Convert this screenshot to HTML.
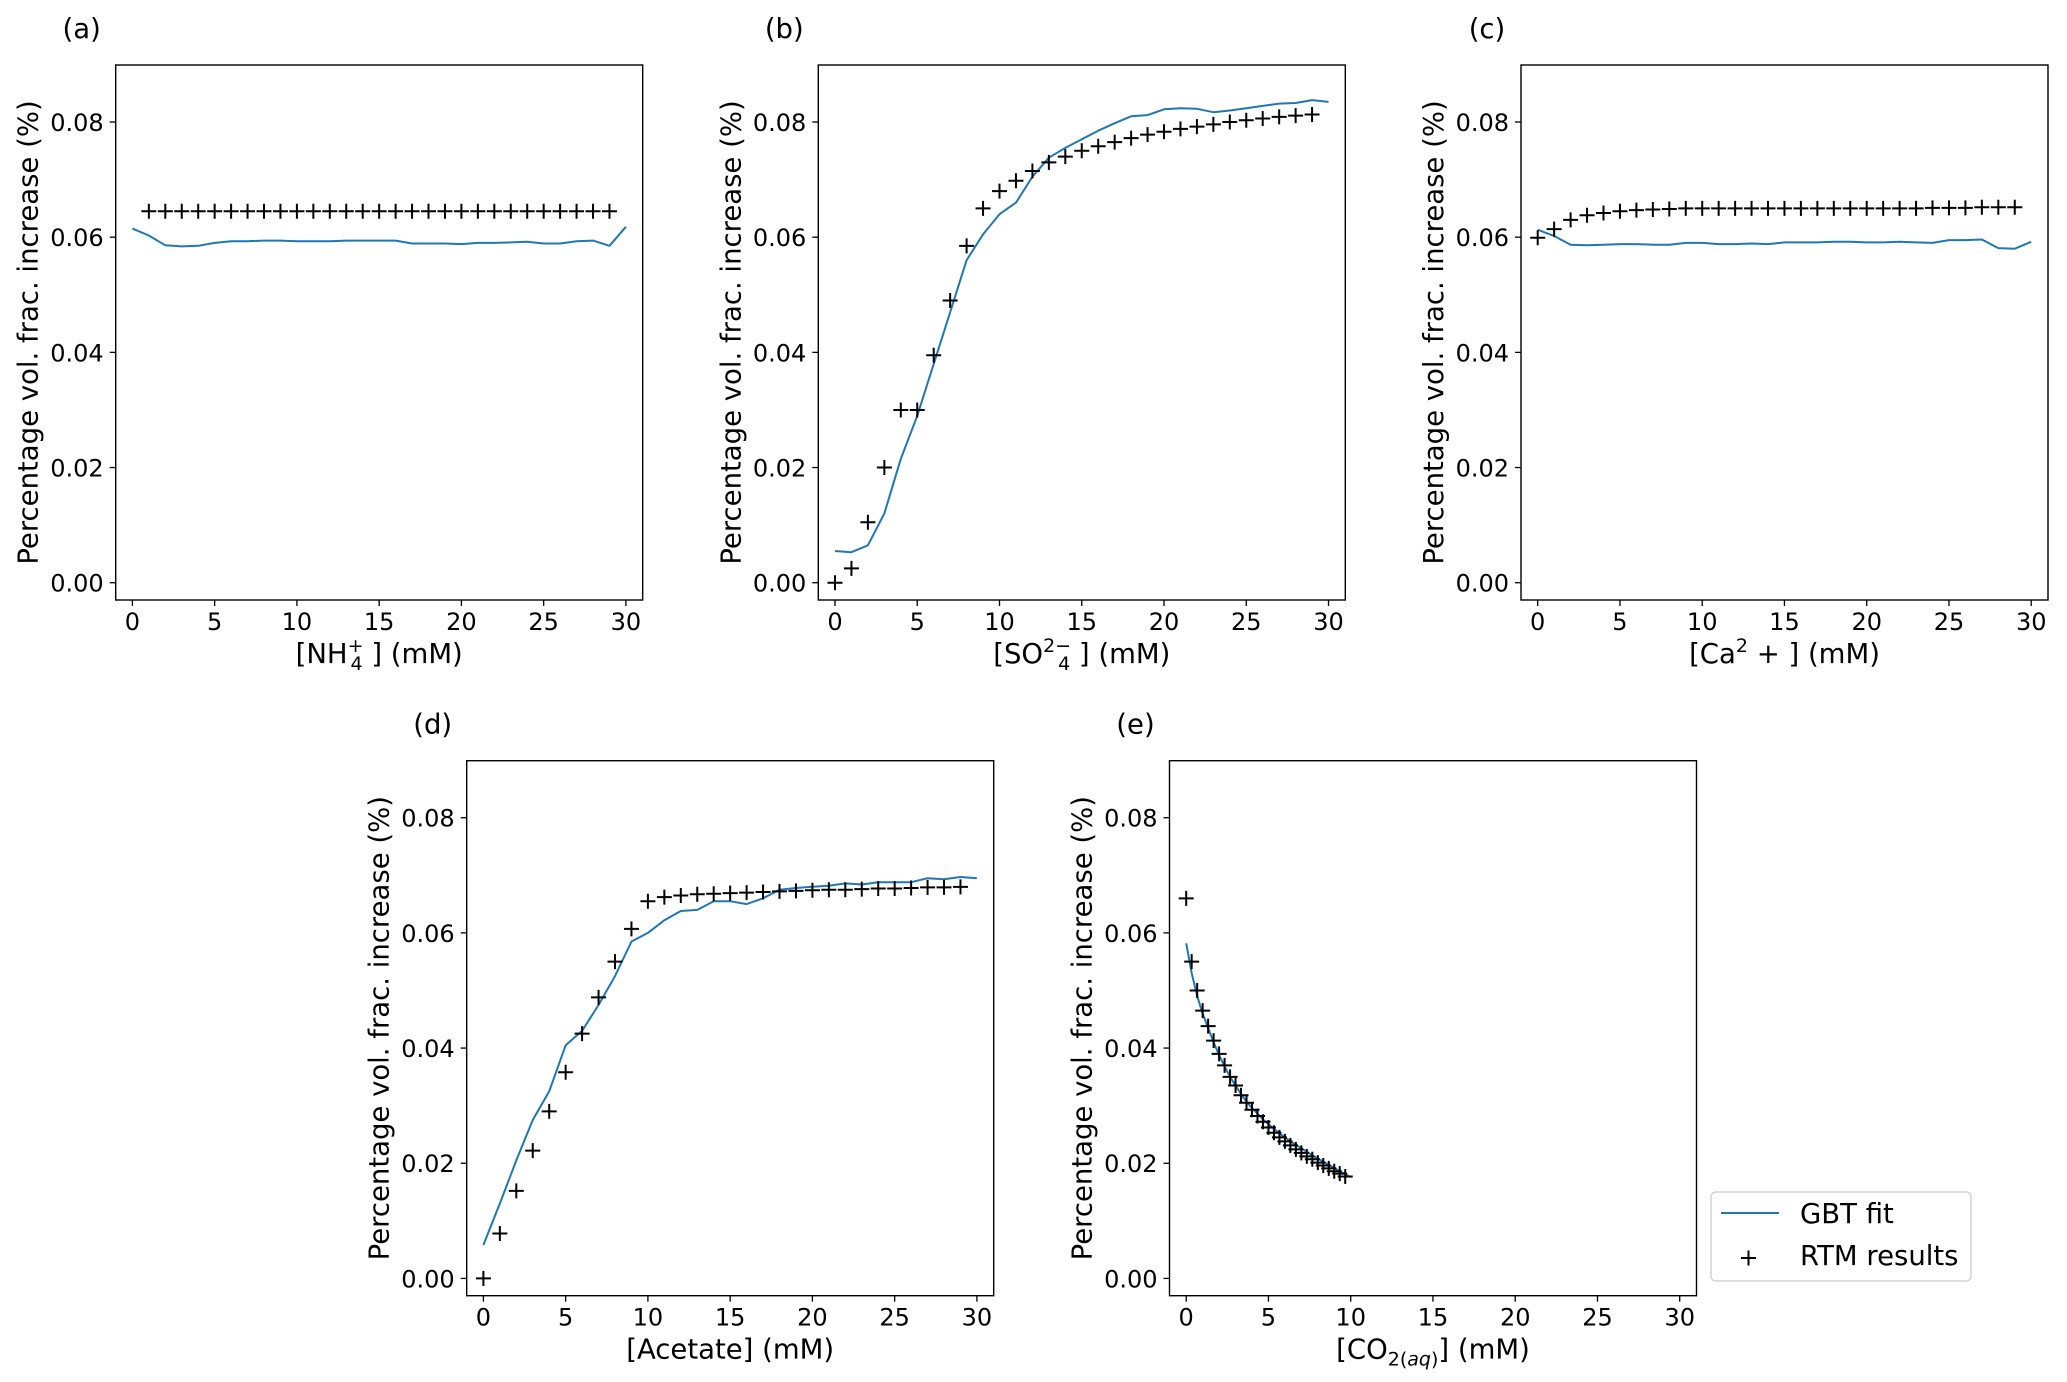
<!DOCTYPE html>
<html><head><meta charset="utf-8"><style>
html,body{margin:0;padding:0;background:#fff}
svg{display:block;font-family:"DejaVu Sans","Liberation Sans",sans-serif}
</style></head><body>
<svg id="fig" width="2067" height="1382" viewBox="0 0 2067 1382" xmlns="http://www.w3.org/2000/svg"></svg>
<script>
const xTicks=[0,5,10,15,20,25,30];
const yTicks=[0,0.02,0.04,0.06,0.08];
const yTickLabels=["0.00","0.02","0.04","0.06","0.08"];
const intX=[0,1,2,3,4,5,6,7,8,9,10,11,12,13,14,15,16,17,18,19,20,21,22,23,24,25,26,27,28,29,30];
const aRtmX=[1,2,3,4,5,6,7,8,9,10,11,12,13,14,15,16,17,18,19,20,21,22,23,24,25,26,27,28,29];
const aRtm=[0.0645,0.0645,0.0645,0.0645,0.0645,0.0645,0.0645,0.0645,0.0645,0.0645,0.0645,0.0645,0.0645,0.0645,0.0645,0.0645,0.0645,0.0645,0.0645,0.0645,0.0645,0.0645,0.0645,0.0645,0.0645,0.0645,0.0645,0.0645,0.0645];
const aGbt=[0.0615,0.0603,0.0586,0.0584,0.0585,0.059,0.0593,0.0593,0.0594,0.0594,0.0593,0.0593,0.0593,0.0594,0.0594,0.0594,0.0594,0.0589,0.0589,0.0589,0.0588,0.059,0.059,0.0591,0.0592,0.0589,0.0589,0.0593,0.0594,0.0585,0.0618];
const rtmX30=[0,1,2,3,4,5,6,7,8,9,10,11,12,13,14,15,16,17,18,19,20,21,22,23,24,25,26,27,28,29];
const bRtm=[0,0.0025,0.0105,0.02,0.030,0.030,0.0395,0.049,0.0585,0.065,0.068,0.0698,0.0715,0.073,0.074,0.075,0.0758,0.0765,0.0772,0.0778,0.0783,0.0788,0.0792,0.0796,0.080,0.0803,0.0806,0.0809,0.0811,0.0813];
const bGbt=[0.0055,0.0053,0.0065,0.012,0.0215,0.029,0.038,0.047,0.056,0.0605,0.064,0.066,0.0705,0.0738,0.0755,0.077,0.0785,0.0798,0.081,0.0812,0.0822,0.0824,0.0823,0.0817,0.082,0.0824,0.0828,0.0832,0.0833,0.0838,0.0835];
const cRtm=[0.0599,0.0614,0.063,0.0638,0.0642,0.0645,0.0647,0.0648,0.0649,0.065,0.065,0.065,0.065,0.065,0.065,0.065,0.065,0.065,0.065,0.065,0.065,0.065,0.065,0.065,0.0651,0.0651,0.0651,0.0652,0.0652,0.0652];
const cGbt=[0.0613,0.0602,0.0587,0.0586,0.0587,0.0588,0.0588,0.0587,0.0587,0.059,0.059,0.0588,0.0588,0.0589,0.0588,0.0591,0.0591,0.0591,0.0592,0.0592,0.0591,0.0591,0.0592,0.0591,0.059,0.0595,0.0595,0.0596,0.0581,0.058,0.0592];
const dRtm=[0,0.0078,0.0152,0.0222,0.029,0.0358,0.0425,0.0488,0.055,0.0607,0.0655,0.0662,0.0665,0.0667,0.0668,0.0669,0.067,0.0671,0.0672,0.0673,0.0674,0.0675,0.0675,0.0676,0.0677,0.0677,0.0678,0.0679,0.0679,0.068];
const dGbt=[0.0058,0.013,0.0205,0.0275,0.0325,0.0405,0.043,0.0475,0.0525,0.0585,0.06,0.0622,0.0638,0.064,0.0655,0.0655,0.065,0.066,0.0675,0.0678,0.068,0.0682,0.0686,0.0684,0.0688,0.0688,0.0688,0.0695,0.0693,0.0697,0.0695];
const eRtmX=[0,0.333,0.667,1,1.333,1.667,2,2.333,2.667,3,3.333,3.667,4,4.333,4.667,5,5.333,5.667,6,6.333,6.667,7,7.333,7.667,8,8.333,8.667,9,9.333,9.667];
const eRtm=[0.066,0.055,0.050,0.0465,0.0438,0.0413,0.039,0.037,0.035,0.0335,0.0318,0.0305,0.0293,0.0282,0.0272,0.0262,0.0253,0.0245,0.0238,0.0231,0.0224,0.0218,0.0212,0.0207,0.0201,0.0196,0.0191,0.0186,0.0182,0.0177];
const eGbtX=[0,0.333,0.667,1,1.333,1.667,2,2.333,2.667,3,3.333,3.667,4,4.333,4.667,5,5.333,5.667,6,6.333,6.667,7,7.333,7.667,8,8.333,8.667,9,9.333,9.667,10];
const eGbt=[0.0582,0.053,0.049,0.046,0.0435,0.041,0.0388,0.0368,0.035,0.0335,0.032,0.0307,0.0296,0.0286,0.0276,0.0268,0.026,0.0252,0.0245,0.0238,0.0232,0.0226,0.022,0.0214,0.0208,0.0203,0.0197,0.0192,0.0186,0.0181,0.0176];

const NS="http://www.w3.org/2000/svg";
const svg=document.getElementById('fig');
function mk(tag,attrs,parent){const e=document.createElementNS(NS,tag);for(const k in attrs)e.setAttribute(k,attrs[k]);(parent||svg).appendChild(e);return e;}
const W=527,H=535,XMIN=-1.015,XMAX=31.02,YMIN=-0.003,YMAX=0.0899;
const FS=24, LFS=27.5, SFS=19;

function panel(id,L,T,title,xlabelParts,gbtX,gbt,rtmX,rtm){
  const g=mk('g',{});
  
  
  const sx=v=>L+(v-XMIN)/(XMAX-XMIN)*W;
  const sy=v=>T+H-(v-YMIN)/(YMAX-YMIN)*H;
  const fr=mk('rect',{x:L,y:T,width:W,height:H,fill:'none',stroke:'#000','stroke-width':1.4},g);
  
  
  xTicks.forEach(t=>{
    const x=sx(t);
    mk('line',{x1:x,x2:x,y1:T+H,y2:T+H+6,stroke:'#000','stroke-width':1.3},g);
    const tx=mk('text',{x:x,y:T+H+30,'font-size':FS,'text-anchor':'middle'},g);
    tx.textContent=t;
    
    
  });
  yTicks.forEach((t,i)=>{
    const y=sy(t);
    mk('line',{x1:L-6,x2:L,y1:y,y2:y,stroke:'#000','stroke-width':1.3},g);
    const tx=mk('text',{x:L-12,y:y+9,'font-size':FS,'text-anchor':'end'},g);
    tx.textContent=yTickLabels[i];
    
    
  });
  const yl=mk('text',{x:0,y:0,'font-size':LFS,'text-anchor':'middle',transform:`translate(${L-78},${T+H/2}) rotate(-90)`},g);
  yl.textContent='Percentage vol. frac. increase (%)';
  
  
  const xl=mk('text',{x:L+W/2,y:T+H+63,'font-size':LFS,'text-anchor':'middle'},g);
  
  
  xlabelParts.forEach(p=>{
    const ts=mk('tspan',{},xl);
    if(p[1]==='sup'){ts.setAttribute('font-size',SFS);ts.setAttribute('dy','-11');}
    else if(p[1]==='sub'){ts.setAttribute('font-size',SFS);ts.setAttribute('dy','7');}
    else if(p[1]==='subc'){ts.setAttribute('font-size',SFS);}
    else if(p[1]==='subsup'){ts.setAttribute('font-size',SFS);ts.setAttribute('dx','-13');ts.setAttribute('dy','18');}
    else if(p[1]==='back'){ts.setAttribute('dy',p[2]);}
    if(p[3])ts.setAttribute('font-style','italic');
    ts.textContent=p[0];
  });
  const tt=mk('text',{x:L-34,y:T-27,'font-size':LFS,'text-anchor':'middle'},g);
  tt.textContent=title;
  
  
  const pts=gbtX.map((x,i)=>sx(x).toFixed(1)+','+sy(gbt[i]).toFixed(1)).join(' ');
  const pl=mk('polyline',{points:pts,fill:'none',stroke:'#1f77b4','stroke-width':2,'stroke-linejoin':'round'},g);
  
  
  rtmX.forEach((x,i)=>{
    const cx=sx(x),cy=sy(rtm[i]),r=7.5;
    const p=mk('path',{d:`M${cx-r},${cy}H${cx+r}M${cx},${cy-r}V${cy+r}`,stroke:'#000','stroke-width':2,fill:'none'},g);
    
    
  });
}
panel('a',115.7,65,'(a)',[['[NH'],['+','sup'],['4','subsup'],[' ] (mM)','back','-7']],intX,aGbt,aRtmX,aRtm);
panel('b',818.3,65,'(b)',[['[SO'],['2−','sup'],['4','subsup'],[' ] (mM)','back','-7']],intX,bGbt,rtmX30,bRtm);
panel('c',1521,65,'(c)',[['[Ca'],['2','sup'],[' + ] (mM)','back','11']],intX,cGbt,rtmX30,cRtm);
panel('d',466.7,760.7,'(d)',[['[Acetate] (mM)']],intX,dGbt,rtmX30,dRtm);
panel('e',1169.5,760.7,'(e)',[['[CO'],['2(','sub'],['aq','subc','',true],[')','subc'],['] (mM)','back','-7']],eGbtX,eGbt,eRtmX,eRtm);

// legend
const lg=mk('g',{});


mk('rect',{x:1711,y:1192,width:260,height:89,rx:5,fill:'#fff',stroke:'#ccc','stroke-width':1.3},lg);
const ll=mk('line',{x1:1721,x2:1779,y1:1213,y2:1213,stroke:'#1f77b4','stroke-width':2},lg);


const t1=mk('text',{x:1800,y:1223,'font-size':LFS},lg);t1.textContent='GBT fit';


const lp=mk('path',{d:'M1741,1258H1756M1748.5,1250.5V1265.5',stroke:'#000','stroke-width':2},lg);


const t2=mk('text',{x:1800,y:1265,'font-size':LFS},lg);t2.textContent='RTM results';


</script>
</body></html>
